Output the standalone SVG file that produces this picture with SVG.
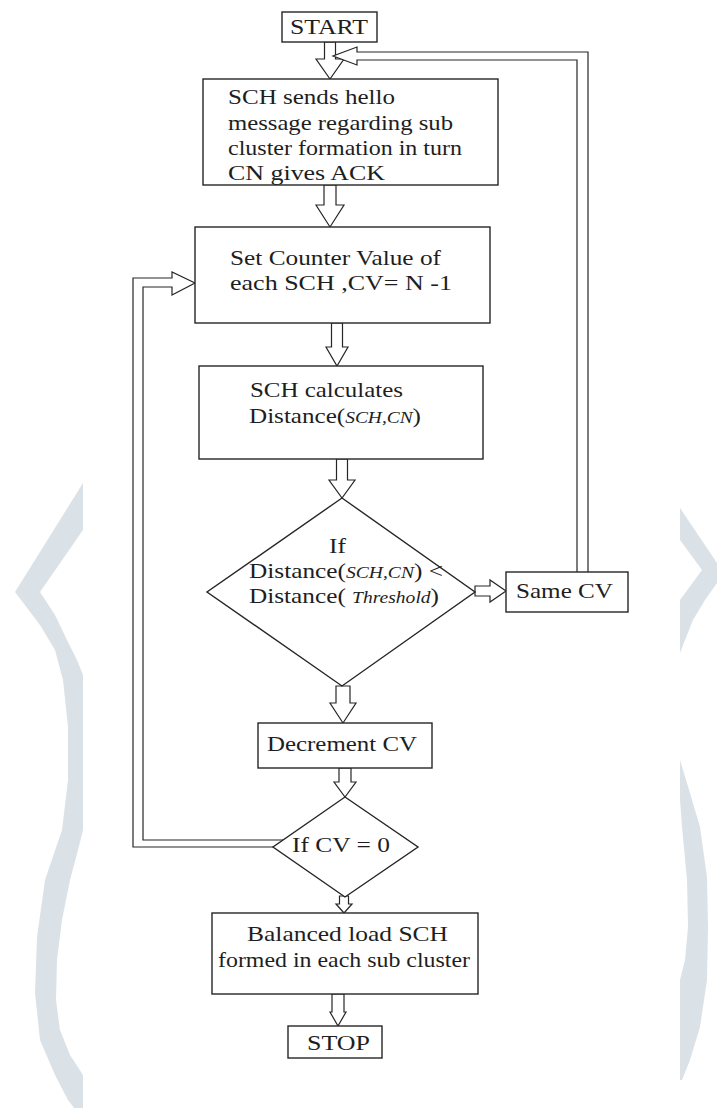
<svg xmlns="http://www.w3.org/2000/svg" width="717" height="1108" viewBox="0 0 717 1108">
<style>
.bg{fill:#ffffff}
.wm{fill:#dbe2e7;stroke:none}
.box{fill:#ffffff;stroke:#262626;stroke-width:1.4}
.arr{fill:#ffffff;stroke:#262626;stroke-width:1.2;stroke-linejoin:miter}
.t{font-family:"Liberation Serif","Times New Roman",serif;font-size:22px;fill:#1e1e1e}
.it{font-style:italic;font-size:17px}
</style>
<rect class="bg" x="0" y="0" width="717" height="1108"/>
<g id="watermark">
<path class="wm" d="M83 483 L15 592 L40 625 L55 650 L63 680 L68 727 L68 780 L62 830 L45 880 L37 937 L35 993 L40 1040 L55 1075 L68 1100 L74 1108 L83 1108 L83 1075 L70 1055 L60 1030 L56 1000 L57 960 L62 920 L70 880 L78 850 L83 830 L83 675 L77 660 L67 640 L55 615 L40 592 L83 530 Z"/>
<path class="wm" d="M680 508 L717 563 L717 583 L705 600 L693 620 L685 640 L680 653 L680 600 L702 570 L680 540 Z"/>
<path class="wm" d="M680 760 L690 793 L700 827 L707 877 L708 927 L707 980 L700 1027 L690 1060 L682 1080 L680 1080 L680 980 L685 960 L688 927 L687 880 L682 827 L680 800 Z"/>
</g>
<g id="connectors">
<path class="arr" d="M324.5 42 V59 H316 L330 79 L344 59 H335.5 V42 Z"/>
<path class="arr" d="M588 572 V52 H357 V47 L333 56 L357 65 V60 H577 V572"/>
<path class="arr" d="M324 185 V205 H316 L330 227 L344 205 H336 V185 Z"/>
<path class="arr" d="M331.5 323 V347 H326 L337 366 L348 347 H342.5 V323 Z"/>
<path class="arr" d="M336.5 459 V480 H329 L342 498 L355 480 H347.5 V459 Z"/>
<path class="arr" d="M475 586 H490 V580 L506 591 L490 602 V596 H475 Z"/>
<path class="arr" d="M336 686 V703 H330 L343 723 L356 703 H350 V686 Z"/>
<path class="arr" d="M339 768 V782 H334 L345 797 L356 782 H351 V768 Z"/>
<path class="arr" d="M273 847 H133 V278 H172 V272 L195 283 L172 295 V287 H143 V840 H283"/>
<path class="arr" d="M339.5 896 V904 H336 L344 913 L352 904 H348.5 V896 Z"/>
<path class="arr" d="M332 994 V1012 H330 L338 1026 L346 1012 H344 V994 Z"/>
</g>
<g id="start">
<rect class="box" x="282" y="12" width="95" height="30"/>
<text class="t" x="290" y="34" textLength="78" lengthAdjust="spacingAndGlyphs">START</text>
</g>
<g id="hello">
<rect class="box" x="203" y="79" width="295" height="106"/>
<text class="t" x="228" y="104" textLength="167" lengthAdjust="spacingAndGlyphs">SCH sends hello</text>
<text class="t" x="228" y="130" textLength="225" lengthAdjust="spacingAndGlyphs">message regarding sub</text>
<text class="t" x="228" y="155" textLength="234" lengthAdjust="spacingAndGlyphs">cluster formation in turn</text>
<text class="t" x="228" y="180" textLength="157" lengthAdjust="spacingAndGlyphs">CN gives ACK</text>
</g>
<g id="counter">
<rect class="box" x="195" y="227" width="295" height="96"/>
<text class="t" x="230" y="265" textLength="211" lengthAdjust="spacingAndGlyphs">Set Counter Value of</text>
<text class="t" x="230" y="290" textLength="222" lengthAdjust="spacingAndGlyphs">each SCH ,CV= N -1</text>
</g>
<g id="calc">
<rect class="box" x="199" y="366" width="284" height="93"/>
<text class="t" x="250" y="397" textLength="153" lengthAdjust="spacingAndGlyphs">SCH calculates</text>
<text class="t" x="249" y="423" textLength="172" lengthAdjust="spacingAndGlyphs">Distance(<tspan class="it">SCH,CN</tspan>)</text>
</g>
<g id="decision1">
<path class="box" d="M342 498 L475 592 L342 686 L207 592 Z"/>
<text class="t" x="329" y="553" textLength="17" lengthAdjust="spacingAndGlyphs">If</text>
<text class="t" x="249" y="578" textLength="194" lengthAdjust="spacingAndGlyphs">Distance(<tspan class="it">SCH,CN</tspan>) &lt;</text>
<text class="t" x="249" y="603" textLength="190" lengthAdjust="spacingAndGlyphs">Distance( <tspan class="it">Threshold</tspan>)</text>
</g>
<g id="same">
<rect class="box" x="506" y="572" width="122" height="40"/>
<text class="t" x="516" y="598" textLength="97" lengthAdjust="spacingAndGlyphs">Same CV</text>
</g>
<g id="decrement">
<rect class="box" x="258" y="723" width="174" height="45"/>
<text class="t" x="267" y="751" textLength="150" lengthAdjust="spacingAndGlyphs">Decrement CV</text>
</g>
<g id="decision2">
<path class="box" d="M345 797 L418 847 L345 897 L273 847 Z"/>
<text class="t" x="292" y="852" textLength="98" lengthAdjust="spacingAndGlyphs">If CV = 0</text>
</g>
<g id="balanced">
<rect class="box" x="212" y="913" width="266" height="81"/>
<text class="t" x="247" y="941" textLength="201" lengthAdjust="spacingAndGlyphs">Balanced load SCH</text>
<text class="t" x="218" y="967" textLength="252" lengthAdjust="spacingAndGlyphs">formed in each sub cluster</text>
</g>
<g id="stop">
<rect class="box" x="288" y="1026" width="94" height="32"/>
<text class="t" x="307" y="1050" textLength="63" lengthAdjust="spacingAndGlyphs">STOP</text>
</g>
</svg>
